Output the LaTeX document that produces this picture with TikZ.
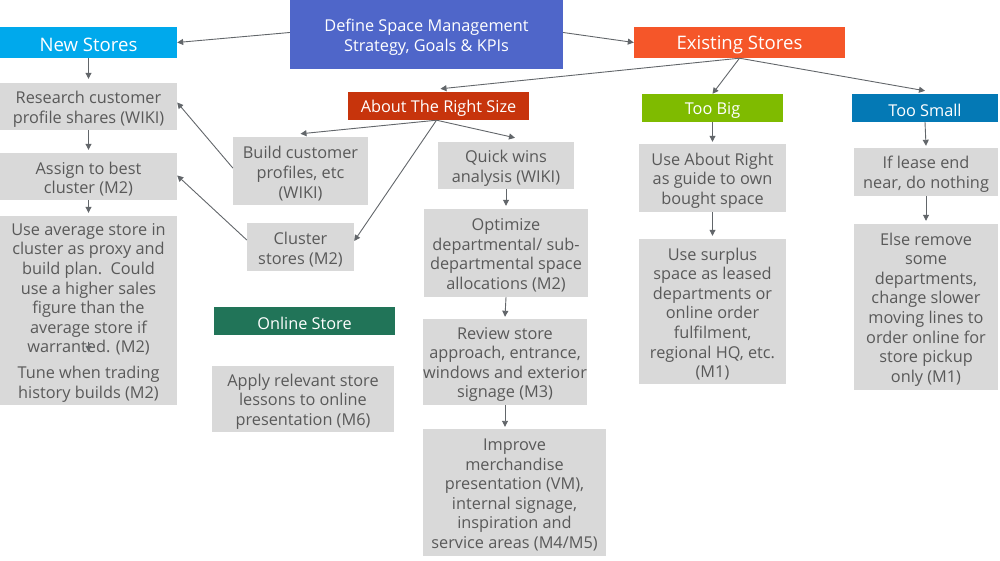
\documentclass[tikz,border=0pt]{standalone}
\usepackage{fontspec}
\setmainfont{Open Sans}
\usetikzlibrary{arrows.meta}
\definecolor{defblue}{HTML}{4F66C9}
\definecolor{newblue}{HTML}{00A9EC}
\definecolor{exorange}{HTML}{F55629}
\definecolor{aboutred}{HTML}{C7340C}
\definecolor{biggreen}{HTML}{7FBB00}
\definecolor{smallblue}{HTML}{0479B5}
\definecolor{onlinegreen}{HTML}{217458}
\definecolor{boxgray}{HTML}{D9D9D9}
\definecolor{textgray}{HTML}{595959}
\definecolor{arrowgray}{HTML}{62666A}
\tikzset{
  gbox/.style={fill=boxgray, inner sep=0pt},
  gtext/.style={text=textgray, align=center, inner sep=0pt,
    font=\fontsize{16.3}{19.6}\selectfont},
  hbox/.style={inner sep=0pt},
  htext/.style={text=white, align=center, inner sep=0pt,
    font=\fontsize{16.3}{19.6}\selectfont},
  bightext/.style={htext, font=\fontsize{18.6}{22}\selectfont},
  arr/.style={draw=arrowgray, line width=0.9pt, -{Triangle[length=6pt,width=6pt]}},
}
% name, box style, text style, x1, y1, x2, y2, text
\newcommand{\bx}[8]{%
  \node[#2, minimum width=#6-#4, minimum height=#7-#5] (#1) at ({(#4+#6)/2},{(#5+#7)/2}) {};
  \node[#3] (#1-t) at ([yshift=-2.5pt]#1.center) {#8};}
\begin{document}
\begin{tikzpicture}[x=1pt,y=-1pt]
\useasboundingbox (0,0) rectangle (1000,561);
% header boxes
\bx{def}{hbox,fill=defblue}{htext}{290}{0}{563}{69}{Define Space Management\\Strategy, Goals \& KPIs}
\bx{new}{hbox,fill=newblue}{bightext}{0}{27}{177}{58}{New Stores}
\bx{exist}{hbox,fill=exorange}{bightext}{634}{27}{845}{58}{Existing Stores}
\bx{about}{hbox,fill=aboutred}{htext}{348}{92}{529}{120}{About The Right Size}
\bx{big}{hbox,fill=biggreen}{htext}{642}{94}{783}{122}{Too Big}
\bx{small}{hbox,fill=smallblue}{htext}{852}{94}{998}{122}{Too Small}
\bx{online}{hbox,fill=onlinegreen}{htext}{214}{307}{395}{335}{Online Store}
% gray boxes
\bx{research}{gbox}{gtext}{0}{83}{177}{130}{Research customer\\profile shares (WIKI)}
\bx{assign}{gbox}{gtext}{0}{153}{177}{200}{Assign to best\\cluster (M2)}
\bx{use}{gbox}{gtext}{0}{216}{177}{358}{Use average store in\\cluster as proxy and\\build plan.\ \ Could\\use a higher sales\\figure than the\\average store if\\warranted. (M2)}
\bx{tune}{gbox}{gtext}{0}{358}{177}{405}{Tune when trading\\history builds (M2)}
\bx{build}{gbox}{gtext}{233}{137}{368}{205}{Build customer\\profiles, etc\\(WIKI)}
\bx{cluster}{gbox}{gtext}{247}{223}{354}{271}{Cluster\\stores (M2)}
\bx{apply}{gbox}{gtext}{212}{366}{394}{432}{Apply relevant store\\lessons to online\\presentation (M6)}
\bx{quick}{gbox}{gtext}{438}{142}{574}{189}{Quick wins\\analysis (WIKI)}
\bx{optimize}{gbox}{gtext}{424}{209}{588}{297}{Optimize\\departmental/ sub-\\departmental space\\allocations (M2)}
\bx{review}{gbox}{gtext}{423}{319}{587}{405}{Review store\\approach, entrance,\\windows and exterior\\signage (M3)}
\bx{improve}{gbox}{gtext}{423}{429}{606}{556}{Improve\\merchandise\\presentation (VM),\\internal signage,\\inspiration and\\service areas (M4/M5)}
\bx{guide}{gbox}{gtext}{639}{144}{786}{212}{Use About Right\\as guide to own\\bought space}
\bx{surplus}{gbox}{gtext}{639}{239}{786}{384}{Use surplus\\space as leased\\departments or\\online order\\fulfilment,\\regional HQ, etc.\\(M1)}
\bx{lease}{gbox}{gtext}{854}{148}{998}{196}{If lease end\\near, do nothing}
\bx{else}{gbox}{gtext}{854}{224}{998}{390}{Else remove\\some\\departments,\\change slower\\moving lines to\\order online for\\store pickup\\only (M1)}
% connectors
\draw[arr] ([yshift=2pt]def.west) -- (new.east);
\draw[arr] ([yshift=2pt]def.east) -- (exist.west);
\draw[arr] (exist.south) -- ([xshift=2pt,yshift=3pt]about.north);
\draw[arr] (exist.south) -- (big.north);
\draw[arr] (exist.south) -- ([yshift=3pt]small.north);
\draw[arr] (new.south) -- ([yshift=4pt]research.north);
\draw[arr] (research.south) -- ([yshift=3pt]assign.north);
\draw[arr] (assign.south) -- ([yshift=3pt]use.north);
\draw[arr] ([yshift=16pt]use.south) -- ([yshift=6pt]tune.north);
\draw[arr] ([xshift=-2pt]about.south) -- ([yshift=3pt]build.north);
\draw[arr] ([xshift=-2pt]about.south) -- ([xshift=9pt,yshift=4pt]quick.north);
\draw[arr] ([xshift=-2pt]about.south) -- ([yshift=6pt]cluster.east);
\draw[arr] ([yshift=3pt]build.west) -- ([yshift=4pt]research.east);
\draw[arr] ([yshift=7pt]cluster.west) -- ([yshift=1pt]assign.east);
\draw[arr] (quick.south) -- ([yshift=3pt]optimize.north);
\draw[arr] (optimize.south) -- ([yshift=2pt]review.north);
\draw[arr] (review.south) -- ([yshift=2pt]review.south |- improve.north);
\draw[arr] (big.south) -- ([yshift=2pt]guide.north);
\draw[arr] (guide.south) -- ([yshift=3pt]surplus.north);
\draw[arr] (small.south) -- ([yshift=2pt]lease.north);
\draw[arr] (lease.south) -- ([yshift=3pt]else.north);
\end{tikzpicture}
\end{document}
